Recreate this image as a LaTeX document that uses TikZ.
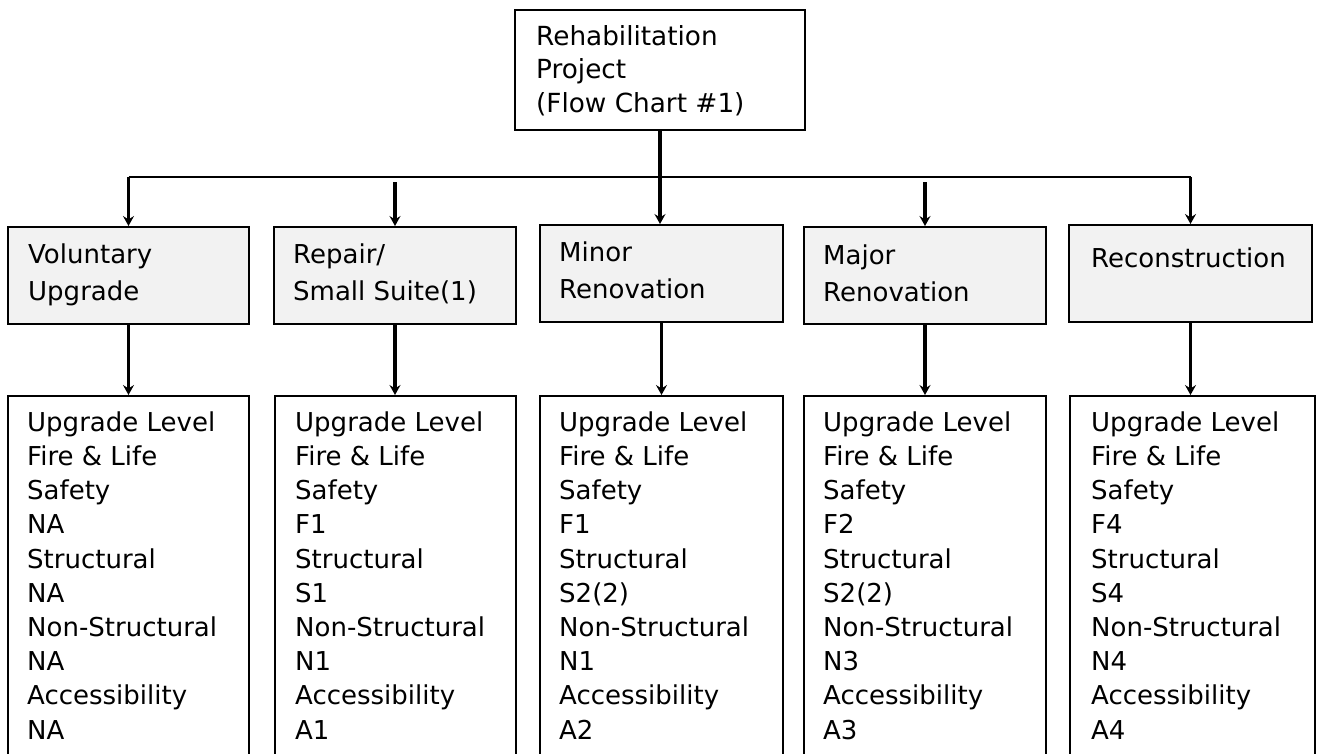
\documentclass[tikz,border=0pt]{standalone}
\usepackage{fontspec}
\setmainfont{DejaVu Sans}
\usetikzlibrary{arrows.meta,calc}
\definecolor{hdrfill}{HTML}{F2F2F2}
\begin{document}
\begin{tikzpicture}[x=1pt,y=-1pt,
  frame/.style={draw=black, line width=2pt, inner sep=0pt, anchor=north west},
  topbox/.style={frame, fill=white, minimum width=290pt, minimum height=120pt},
  hdrbox/.style={frame, fill=hdrfill, minimum height=97pt},
  lvlbox/.style={frame, fill=white, minimum height=420pt},
  % multi-line labels are placed by the baseline of their last line
  txt/.style={anchor=base west, inner sep=0pt, align=left},
  toptxt/.style={txt, font=\fontsize{26.3}{33.5}\selectfont},
  hdrtxt/.style={txt, font=\fontsize{26}{37}\selectfont},
  lvltxt/.style={txt, font=\fontsize{26}{34.2}\selectfont},
  bus/.style={line width=2pt},
  feed/.style={line width=3.8pt, -{Stealth[length=10pt,width=11pt,inset=3.5pt]}},
]
\useasboundingbox (0,0) rectangle (1317,753);
\clip (0,0) rectangle (1317,753);

% root
\node[topbox] (top) at (514,9) {};
\node[toptxt] (topt) at ($(top.north west)+(22,103)$) {Rehabilitation\\Project\\(Flow Chart \#1)};

% project categories
\node[hdrbox, minimum width=241pt] (h1) at (7,226) {};
\node[hdrbox, minimum width=242pt] (h2) at (273,226) {};
\node[hdrbox, minimum width=243pt] (h3) at (539,224) {};
\node[hdrbox, minimum width=242pt] (h4) at (803,226) {};
\node[hdrbox, minimum width=243pt] (h5) at (1068,224) {};
\node[hdrtxt] (h1t) at ($(h1.north west)+(21,74)$) {Voluntary\\Upgrade};
\node[hdrtxt] (h2t) at ($(h2.north west)+(20,74)$) {Repair/\\Small Suite(1)};
\node[hdrtxt] (h3t) at ($(h3.north west)+(20,74)$) {Minor\\Renovation};
\node[hdrtxt] (h4t) at ($(h4.north west)+(20,75)$) {Major\\Renovation};
\node[hdrtxt] (h5t) at ($(h5.north west)+(23,43)$) {Reconstruction};

% upgrade levels
\node[lvlbox, minimum width=241pt] (l1) at (7,395) {};
\node[lvlbox, minimum width=241pt] (l2) at (274,395) {};
\node[lvlbox, minimum width=243pt] (l3) at (539,395) {};
\node[lvlbox, minimum width=242pt] (l4) at (803,395) {};
\node[lvlbox, minimum width=245pt] (l5) at (1069,395) {};
\node[lvltxt] (l1t) at ($(l1.north west)+(20,344)$) {Upgrade Level\\Fire \& Life\\Safety\\NA\\Structural\\NA\\Non-Structural\\NA\\Accessibility\\NA};
\node[lvltxt] (l2t) at ($(l2.north west)+(21,344)$) {Upgrade Level\\Fire \& Life\\Safety\\F1\\Structural\\S1\\Non-Structural\\N1\\Accessibility\\A1};
\node[lvltxt] (l3t) at ($(l3.north west)+(20,344)$) {Upgrade Level\\Fire \& Life\\Safety\\F1\\Structural\\S2(2)\\Non-Structural\\N1\\Accessibility\\A2};
\node[lvltxt] (l4t) at ($(l4.north west)+(20,344)$) {Upgrade Level\\Fire \& Life\\Safety\\F2\\Structural\\S2(2)\\Non-Structural\\N3\\Accessibility\\A3};
\node[lvltxt] (l5t) at ($(l5.north west)+(22,344)$) {Upgrade Level\\Fire \& Life\\Safety\\F4\\Structural\\S4\\Non-Structural\\N4\\Accessibility\\A4};

% distribution bus
\coordinate (busy) at (0,177);
\draw[bus] (h1.north |- busy) -- (h5.north |- busy);
\draw[feed] (top.south) -- (top.south |- h3.north);
\draw[feed] (h1.north |- busy) -- (h1.north);
\draw[feed] ($(h2.north |- busy)+(0,5)$) -- (h2.north);
\draw[feed] ($(h4.north |- busy)+(0,5)$) -- (h4.north);
\draw[feed] (h5.north |- busy) -- (h5.north);

% category to level
\foreach \i in {1,...,5}{
  \draw[feed] (h\i.south) -- (h\i.south |- l\i.north);
}
\end{tikzpicture}
\end{document}
